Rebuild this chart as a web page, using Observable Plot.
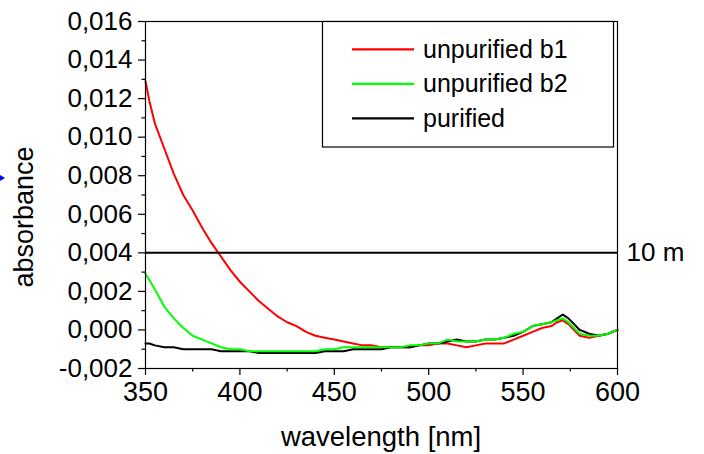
<!DOCTYPE html>
<html>
<head>
<meta charset="utf-8">
<script src="https://cdn.jsdelivr.net/npm/d3@7"></script>
<script src="https://cdn.jsdelivr.net/npm/@observablehq/plot@0.6"></script>
<style>
  html, body { margin: 0; padding: 0; background: #fff; }
  #chart { width: 704px; height: 454px; }
</style>
</head>
<body>
<div id="chart"></div>
<script>
const wavelengths = [350,352,355,360,365,370,375,380,385,390,395,400,405,410,415,420,425,430,435,440,445,450,455,460,465,470,475,480,485,490,495,500,505,510,515,520,525,530,535,540,545,550,555,560,565,568,571,574,577,580,585,590,595,600];
const unpurifiedB1 = [0.0129,0.0119,0.0107,0.0094,0.0081,0.0070,0.0062,0.0053,0.0045,0.0038,0.0031,0.0025,0.0020,0.0015,0.0011,0.0007,0.0004,0.0002,-0.0001,-0.0003,-0.0004,-0.0005,-0.0006,-0.0007,-0.0008,-0.0008,-0.0009,-0.0009,-0.0009,-0.0009,-0.0008,-0.0008,-0.0007,-0.0007,-0.0008,-0.0009,-0.0008,-0.0007,-0.0007,-0.0007,-0.0005,-0.0003,-0.0001,0.0001,0.0002,0.0004,0.0005,0.0003,0.0000,-0.0003,-0.0004,-0.0003,-0.0002,0.0000];
const unpurifiedB2 = [0.0029,0.0026,0.0021,0.0012,0.0006,0.0001,-0.0003,-0.0005,-0.0007,-0.0009,-0.0010,-0.0010,-0.0011,-0.0011,-0.0011,-0.0011,-0.0011,-0.0011,-0.0011,-0.0011,-0.0010,-0.0010,-0.0009,-0.0009,-0.0009,-0.0009,-0.0009,-0.0009,-0.0009,-0.0008,-0.0008,-0.0007,-0.0007,-0.0005,-0.0006,-0.0006,-0.0006,-0.0005,-0.0005,-0.0004,-0.0002,-0.0001,0.0002,0.0003,0.0004,0.0005,0.0006,0.0004,0.0001,-0.0002,-0.0003,-0.0003,-0.0002,0.0000];
const purified = [-0.0007,-0.0007,-0.0008,-0.0009,-0.0009,-0.0010,-0.0010,-0.0010,-0.0010,-0.0011,-0.0011,-0.0011,-0.0011,-0.0012,-0.0012,-0.0012,-0.0012,-0.0012,-0.0012,-0.0012,-0.0011,-0.0011,-0.0011,-0.0010,-0.0010,-0.0010,-0.0010,-0.0009,-0.0009,-0.0009,-0.0008,-0.0007,-0.0007,-0.0006,-0.0005,-0.0006,-0.0006,-0.0005,-0.0005,-0.0004,-0.0003,-0.0001,0.0002,0.0003,0.0004,0.0006,0.0008,0.0006,0.0003,0.0000,-0.0002,-0.0003,-0.0002,0.0000];

const seriesNames = ["unpurified b1", "unpurified b2", "purified"];
const seriesColors = ["#ff0000", "#00ff00", "#000000"];
const xTicks = [350,400,450,500,550,600];
const xMinorTicks = [375,425,475,525,575];
const yTicks = [-0.002,0,0.002,0.004,0.006,0.008,0.010,0.012,0.014,0.016];
const yMinorTicks = [-0.001,0.001,0.003,0.005,0.007,0.009,0.011,0.013,0.015];
const markerLevel = [0.004];
const markerLabel = "10 m";
const xTitle = "wavelength [nm]";
const yTitle = "absorbance";

const seriesValues = [unpurifiedB1, unpurifiedB2, purified];
const rows = seriesNames.map((name, i) => wavelengths.map((w, j) => ({name, wl: w, v: seriesValues[i][j]})));
const fmt = d => d3.format(".3f")(d).replace(".", ",").replace("\u2212", "-");

const W = 704, H = 454;
const mL = 145, mR = 87, mT = 21, mB = 86;
const font = "Liberation Sans, Arial, sans-serif";

const drawOrder = [0, 2, 1];

const plot = Plot.plot({
  width: W, height: H,
  marginLeft: mL, marginRight: mR, marginTop: mT, marginBottom: mB,
  style: {fontFamily: font, fontSize: "22px", color: "#000", background: "#fff", overflow: "visible"},
  x: {domain: [350, 600]},
  y: {domain: [-0.002, 0.016]},
  marks: [
    Plot.axisX({ticks: xTicks, tickSize: 7, tickPadding: 6, tickFormat: d => String(d), label: null, fontSize: 27, strokeWidth: 1.2}),
    Plot.axisX({ticks: xMinorTicks, tickSize: 3.5, tickFormat: () => "", label: null, strokeWidth: 1.2}),
    Plot.axisY({ticks: yTicks, tickSize: 7, tickPadding: 6, tickFormat: fmt, label: null, fontSize: 26, strokeWidth: 1.2}),
    Plot.axisY({ticks: yMinorTicks, tickSize: 3.5, tickFormat: () => "", label: null, strokeWidth: 1.2}),
    ...drawOrder.map(i => Plot.line(rows[i], {x: "wl", y: "v", stroke: seriesColors[i], strokeWidth: 2})),
    Plot.ruleY(markerLevel, {stroke: "#000", strokeWidth: 2}),
    Plot.text(markerLevel, {y: d => d, frameAnchor: "right", text: () => markerLabel, textAnchor: "start", dx: 9, fontSize: 26, fill: "#000"}),
    Plot.frame({stroke: "#000", strokeWidth: 1.2})
  ]
});

const svg = d3.select(plot);
// axis titles
svg.append("text").attr("x", 381).attr("y", 446).attr("text-anchor", "middle")
  .attr("font-family", font).attr("font-size", 27.5).attr("fill", "#000").text(xTitle);
svg.append("text").attr("transform", "translate(33,217) rotate(-90)").attr("text-anchor", "middle")
  .attr("font-family", font).attr("font-size", 27).attr("fill", "#000").text(yTitle);
// small blue arrowhead at left edge
svg.append("polygon").attr("points", "0,175 5,178 0,181").attr("fill", "#0000ff");

// legend
const lg = svg.append("g");
lg.append("rect").attr("x", 322.5).attr("y", 21.5).attr("width", 291).attr("height", 125.5)
  .attr("fill", "#fff").attr("stroke", "#000").attr("stroke-width", 1.2);
seriesNames.forEach((name, i) => {
  const y = 49.3 + i * 34.5;
  lg.append("line").attr("x1", 352).attr("x2", 414).attr("y1", y).attr("y2", y)
    .attr("stroke", seriesColors[i]).attr("stroke-width", 2.2);
  lg.append("text").attr("x", 423).attr("y", y + 8.5).attr("text-anchor", "start")
    .attr("font-family", font).attr("font-size", 25).attr("fill", "#000").text(name);
});

document.getElementById("chart").appendChild(plot);
</script>
</body>
</html>
